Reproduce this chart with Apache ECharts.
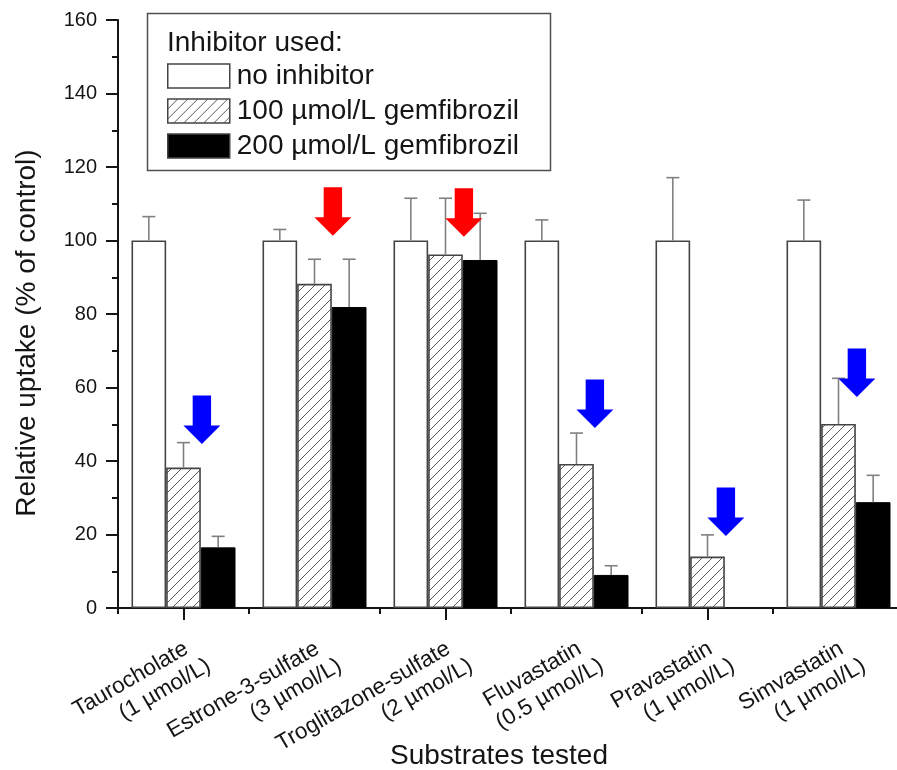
<!DOCTYPE html>
<html>
<head>
<meta charset="utf-8">
<script src="https://cdn.jsdelivr.net/npm/echarts@6/dist/echarts.min.js"></script>
<style>
  html, body { margin: 0; padding: 0; background: #ffffff; }
  #chart { width: 897px; height: 770px; }
</style>
</head>
<body>
<div id="chart"></div>
<script>
// Substrates and their test concentrations (x categories)
const substrates = ['Taurocholate', 'Estrone-3-sulfate', 'Troglitazone-sulfate', 'Fluvastatin', 'Pravastatin', 'Simvastatin'];
const concentrations = ['(1 µmol/L)', '(3 µmol/L)', '(2 µmol/L)', '(0.5 µmol/L)', '(1 µmol/L)', '(1 µmol/L)'];

// Inhibitor groups
const seriesNames = ['no inhibitor', '100 µmol/L gemfibrozil', '200 µmol/L gemfibrozil'];

// Relative uptake (% of control), means
const noInhibitor = [100, 100, 100, 100, 100, 100];
const gem100 = [38.2, 88.2, 96.2, 39.2, 14.0, 50.1];
const gem200 = [16.5, 81.9, 94.7, 9.0, null, 28.8];

// Standard deviations (upper error bars)
const sdNoInhibitor = [6.5, 3.0, 11.5, 5.6, 17.1, 11.0];
const sd100 = [6.8, 6.7, 15.3, 8.4, 5.9, 12.4];
const sd200 = [3.0, 13.0, 12.7, 2.5, null, 7.3];

// y-axis tick labels
const yTicks = [0, 20, 40, 60, 80, 100, 120, 140, 160];

// Arrow annotations: tip value per substrate (null = no arrow)
const blueArrowTips = [44.6, null, null, 49.0, 19.6, 57.4];
const redArrowTips = [null, 101.3, 101.0, null, null, null];

const FONT = '"Liberation Sans", Arial, Helvetica, sans-serif';
const INK = '#151515';
const CATEGORY_GAP = 0.206;

// Diagonal hatch fill for the 100 µmol/L group
function hatchCanvas() {
  const s = 10;
  const c = document.createElement('canvas');
  c.width = s; c.height = s;
  const ctx = c.getContext('2d');
  ctx.fillStyle = '#ffffff';
  ctx.fillRect(0, 0, s, s);
  ctx.strokeStyle = '#5a5a5a';
  ctx.lineWidth = 1;
  ctx.beginPath();
  ctx.moveTo(-1, s + 1); ctx.lineTo(s + 1, -1);
  ctx.moveTo(-1, 1); ctx.lineTo(1, -1);
  ctx.moveTo(s - 1, s + 1); ctx.lineTo(s + 1, s - 1);
  ctx.stroke();
  return c;
}
const hatchFill = { image: hatchCanvas(), repeat: 'repeat' };

function barWidth(api) {
  return api.size([1, 0])[0] * (1 - CATEGORY_GAP) / 3;
}

// Upper error bar for one bar group
function errorSeries(groupIndex, means, sds) {
  return {
    type: 'custom',
    name: 'sd-' + groupIndex,
    xAxisIndex: 0,
    z: 4,
    silent: true,
    encode: { x: 0, y: 1 },
    data: substrates.map((_, i) => [i, means[i] == null ? NaN : means[i], sds[i] == null ? NaN : sds[i]]),
    renderItem: function (params, api) {
      const i = api.value(0), m = api.value(1), sd = api.value(2);
      if (isNaN(m) || isNaN(sd)) return null;
      const w = barWidth(api);
      const base = api.coord([i, m]);
      const top = api.coord([i, m + sd]);
      const x = base[0] + (groupIndex - 1) * w;
      const st = { stroke: '#808080', lineWidth: 1.6 };
      return {
        type: 'group',
        children: [
          { type: 'line', shape: { x1: x, y1: base[1], x2: x, y2: top[1] }, style: st },
          { type: 'line', shape: { x1: x - 6.5, y1: top[1], x2: x + 6.5, y2: top[1] }, style: st }
        ]
      };
    }
  };
}

// Downward block arrow pointing at a value, between the 2nd and 3rd bar of a group
function arrowSeries(name, tips, color) {
  return {
    type: 'custom',
    name: name,
    xAxisIndex: 0,
    z: 5,
    silent: true,
    encode: { x: 0, y: 1 },
    data: substrates.map((_, i) => [i, tips[i] == null ? NaN : tips[i]]),
    renderItem: function (params, api) {
      const i = api.value(0), v = api.value(1);
      if (isNaN(v)) return null;
      const w = barWidth(api);
      const p = api.coord([i, v]);
      const x = p[0] + w * 0.53, y = p[1];
      const headH = 18.5, headHalf = 18.5, shaftHalf = 9.2, total = 48.5;
      return {
        type: 'polygon',
        shape: {
          points: [
            [x, y],
            [x - headHalf, y - headH],
            [x - shaftHalf, y - headH],
            [x - shaftHalf, y - total],
            [x + shaftHalf, y - total],
            [x + shaftHalf, y - headH],
            [x + headHalf, y - headH]
          ]
        },
        style: { fill: color }
      };
    }
  };
}

const axisLineStyle = { color: INK, width: 2 };

const chart = echarts.init(document.getElementById('chart'), null, { renderer: 'canvas' });

chart.setOption({
  backgroundColor: '#ffffff',
  animation: false,
  grid: { left: 118, right: -7, top: 20, bottom: 162, containLabel: false, outerBoundsMode: 'none' },
  legend: {
    data: seriesNames,
    orient: 'vertical',
    left: 162,
    top: 57,
    itemWidth: 62,
    itemHeight: 24,
    itemGap: 7,
    icon: 'rect',
    selectedMode: false,
    itemStyle: { borderColor: '#444444', borderWidth: 1.5 },
    textStyle: { fontFamily: FONT, fontSize: 28, color: INK, padding: [0, 0, 0, 2] }
  },
  xAxis: [
    {
      type: 'category',
      data: substrates,
      position: 'bottom',
      boundaryGap: true,
      axisLine: { lineStyle: axisLineStyle },
      axisTick: { show: true, length: 6, lineStyle: axisLineStyle },
      splitLine: { show: false },
      axisLabel: {
        interval: 0,
        rotate: 30,
        margin: 12,
        padding: [76, 0, 0, 0],
        color: INK,
        formatter: function (value, index) {
          return '{a|' + value + '}\n{b|' + concentrations[index] + '}';
        },
        rich: {
          a: { fontFamily: FONT, fontSize: 22.5, lineHeight: 26, color: INK, padding: [0, 11, 0, 0] },
          b: { fontFamily: FONT, fontSize: 22.5, lineHeight: 26, color: INK }
        }
      },
      name: 'Substrates tested',
      nameLocation: 'middle',
      nameGap: 134,
      nameMoveOverlap: false,
      nameTextStyle: { fontFamily: FONT, fontSize: 28, color: INK, padding: [0, 24, 0, 0] }
    },
    {
      // long ticks under each substrate
      type: 'category',
      data: substrates,
      position: 'bottom',
      boundaryGap: true,
      axisLine: { show: false },
      axisTick: { show: true, alignWithLabel: true, length: 12, lineStyle: axisLineStyle },
      axisLabel: { show: false },
      splitLine: { show: false }
    }
  ],
  yAxis: {
    type: 'value',
    min: yTicks[0],
    max: yTicks[yTicks.length - 1],
    interval: yTicks[1] - yTicks[0],
    axisLine: { show: true, lineStyle: axisLineStyle },
    axisTick: { show: true, length: 12, lineStyle: axisLineStyle },
    minorTick: { show: true, splitNumber: 2, length: 6, lineStyle: { color: INK, width: 2 } },
    splitLine: { show: false },
    axisLabel: {
      margin: 21,
      fontFamily: FONT,
      fontSize: 20,
      color: INK,
      formatter: function (v) { return yTicks.indexOf(v) >= 0 ? String(v) : ''; }
    }
  },
  graphic: [
    {
      type: 'rect',
      z: 10,
      shape: { x: 147.5, y: 13.5, width: 403, height: 157 },
      style: { fill: 'none', stroke: '#505050', lineWidth: 1.5 },
      silent: true
    },
    {
      type: 'text',
      z: 11,
      x: 167,
      y: 43,
      style: { text: 'Inhibitor used:', fontFamily: FONT, fontSize: 28, fill: INK, align: 'left', verticalAlign: 'middle' },
      silent: true
    },
    {
      type: 'text',
      z: 11,
      x: 27,
      y: 333,
      rotation: Math.PI / 2,
      style: { text: 'Relative uptake (% of control)', fontFamily: FONT, fontSize: 28, fill: INK, align: 'center', verticalAlign: 'middle' },
      silent: true
    }
  ],
  series: [
    {
      type: 'bar',
      name: seriesNames[0],
      data: noInhibitor,
      xAxisIndex: 0,
      barGap: '0%',
      barCategoryGap: (CATEGORY_GAP * 100) + '%',
      z: 2,
      itemStyle: { color: '#ffffff', borderColor: '#444444', borderWidth: 1.6 }
    },
    {
      type: 'bar',
      name: seriesNames[1],
      data: gem100,
      xAxisIndex: 0,
      barGap: '0%',
      barCategoryGap: (CATEGORY_GAP * 100) + '%',
      z: 2,
      itemStyle: { color: hatchFill, borderColor: '#444444', borderWidth: 1.6 }
    },
    {
      type: 'bar',
      name: seriesNames[2],
      data: gem200,
      xAxisIndex: 0,
      barGap: '0%',
      barCategoryGap: (CATEGORY_GAP * 100) + '%',
      z: 2,
      itemStyle: { color: '#000000', borderColor: '#000000', borderWidth: 1 }
    },
    errorSeries(0, noInhibitor, sdNoInhibitor),
    errorSeries(1, gem100, sd100),
    errorSeries(2, gem200, sd200),
    arrowSeries('arrows-blue', blueArrowTips, '#0000ff'),
    arrowSeries('arrows-red', redArrowTips, '#ff0000')
  ]
});
</script>
</body>
</html>
